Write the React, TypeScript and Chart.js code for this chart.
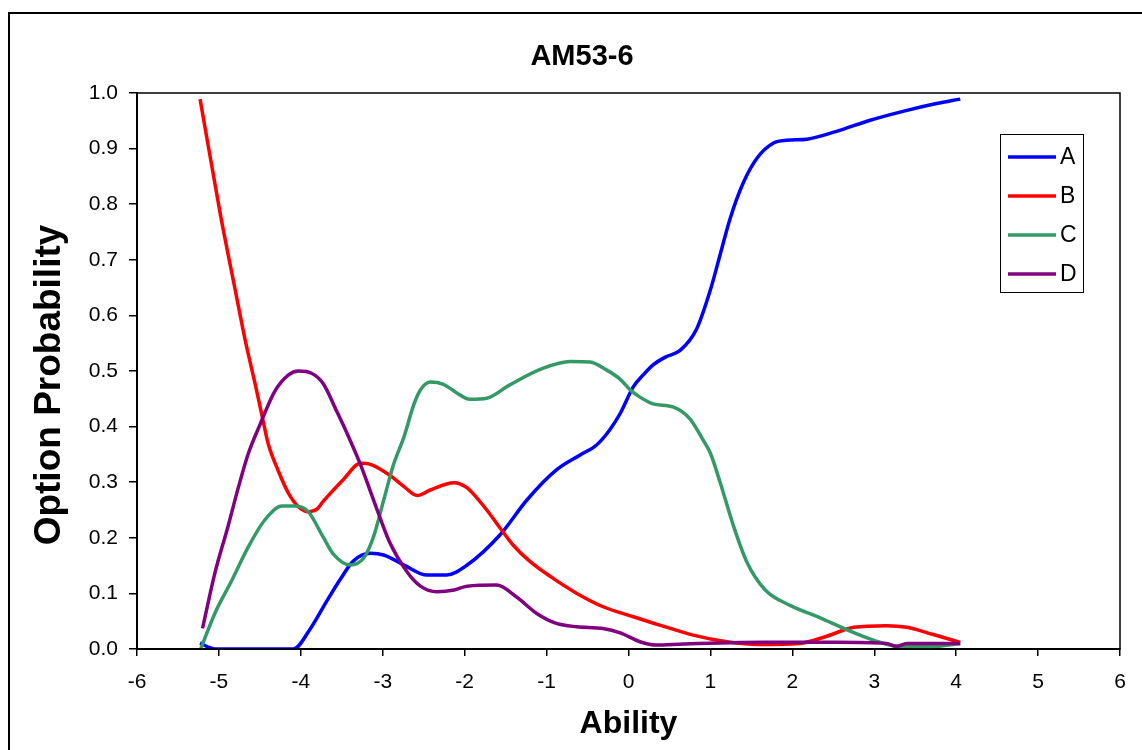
import React, { useEffect, useRef } from "react";
import { Chart, registerables } from "chart.js";

Chart.register(...registerables);

const FONT = '"Liberation Sans", Arial, Helvetica, sans-serif';

const chartTitle = "AM53-6";
const xAxisTitle = "Ability";
const yAxisTitle = "Option Probability";
const seriesNames = ["A", "B", "C", "D"];
const seriesColors = ["#0000FF", "#FF0000", "#339966", "#800080"];

const aX = [-5.23, -5.14, -5.05, -4.5, -4.09, -3.89, -3.68, -3.52, -3.36, -3.15, -2.99, -2.74, -2.46, -2.22, -1.97, -1.57, -1.24, -0.88, -0.59, -0.39, -0.23, -0.1, 0.06, 0.18, 0.3, 0.45, 0.63, 0.83, 1.0, 1.12, 1.24, 1.4, 1.57, 1.77, 1.93, 2.18, 2.54, 2.95, 3.35, 3.76, 4.05];
const aY = [0.011, 0.004, 0.0, 0.0, 0.0, 0.035, 0.087, 0.125, 0.158, 0.172, 0.169, 0.151, 0.133, 0.133, 0.151, 0.205, 0.268, 0.322, 0.349, 0.367, 0.394, 0.424, 0.472, 0.493, 0.511, 0.525, 0.537, 0.575, 0.646, 0.71, 0.774, 0.838, 0.883, 0.91, 0.915, 0.917, 0.931, 0.951, 0.967, 0.981, 0.989];

const bX = [-5.23, -4.98, -4.8, -4.68, -4.56, -4.48, -4.4, -4.28, -4.15, -4.03, -3.91, -3.8, -3.73, -3.64, -3.48, -3.27, -3.15, -2.91, -2.74, -2.58, -2.42, -2.13, -1.97, -1.9, -1.73, -1.55, -1.41, -1.2, -0.92, -0.63, -0.31, 0.06, 0.38, 0.79, 1.2, 1.6, 2.09, 2.42, 2.75, 3.15, 3.4, 3.72, 4.05];
const bY = [0.989, 0.78, 0.645, 0.556, 0.478, 0.424, 0.37, 0.322, 0.28, 0.256, 0.247, 0.252, 0.265, 0.28, 0.305, 0.334, 0.332, 0.312, 0.292, 0.276, 0.286, 0.299, 0.29, 0.28, 0.25, 0.214, 0.187, 0.157, 0.127, 0.1, 0.076, 0.058, 0.043, 0.025, 0.013, 0.008, 0.01, 0.023, 0.039, 0.042, 0.039, 0.026, 0.012];

const cX = [-5.22, -5.05, -4.84, -4.64, -4.44, -4.23, -4.07, -3.91, -3.73, -3.6, -3.4, -3.23, -3.11, -2.99, -2.87, -2.74, -2.62, -2.54, -2.42, -2.26, -2.06, -1.94, -1.73, -1.45, -1.04, -0.71, -0.47, -0.27, -0.1, 0.02, 0.14, 0.3, 0.55, 0.75, 0.91, 1.0, 1.12, 1.28, 1.44, 1.67, 1.98, 2.34, 2.66, 2.99, 3.27, 3.7, 4.05];
const cY = [0.001, 0.064, 0.124, 0.184, 0.232, 0.257, 0.257, 0.247, 0.202, 0.17, 0.151, 0.164, 0.203, 0.267, 0.331, 0.382, 0.44, 0.466, 0.48, 0.476, 0.457, 0.449, 0.451, 0.475, 0.505, 0.517, 0.516, 0.502, 0.485, 0.466, 0.453, 0.441, 0.435, 0.414, 0.376, 0.352, 0.299, 0.222, 0.158, 0.106, 0.078, 0.056, 0.035, 0.016, 0.005, 0.004, 0.01];

const dX = [-5.2, -5.05, -4.89, -4.76, -4.64, -4.5, -4.32, -4.15, -4.03, -3.87, -3.73, -3.56, -3.4, -3.27, -3.11, -2.91, -2.7, -2.54, -2.34, -2.13, -1.97, -1.61, -1.37, -1.12, -0.88, -0.63, -0.31, -0.1, 0.14, 0.34, 0.67, 1.65, 2.54, 3.15, 3.27, 3.4, 4.05];
const dY = [0.037, 0.136, 0.22, 0.292, 0.352, 0.403, 0.463, 0.493, 0.5, 0.496, 0.478, 0.427, 0.376, 0.331, 0.267, 0.19, 0.138, 0.113, 0.103, 0.106, 0.113, 0.115, 0.094, 0.064, 0.046, 0.04, 0.037, 0.029, 0.013, 0.007, 0.009, 0.012, 0.012, 0.01, 0.005, 0.01, 0.01];

const seriesX = [aX, bX, cX, dX];
const seriesY = [aY, bY, cY, dY];

export default function App() {
  const ref = useRef<HTMLCanvasElement>(null);

  useEffect(() => {
    if (!ref.current) return;
    const toPts = (xs: number[], ys: number[]) => xs.map((x, i) => ({ x, y: ys[i] }));

    const decorations = {
      id: "decorations",
      beforeDraw(chart: any) {
        const ctx = chart.ctx;
        ctx.save();
        ctx.fillStyle = "#ffffff";
        ctx.fillRect(0, 0, chart.width, chart.height);
        ctx.strokeStyle = "#000000";
        ctx.lineWidth = 2;
        ctx.strokeRect(9, 13, 3000, 3000);
        ctx.restore();
      },
      afterDraw(chart: any) {
        const ctx = chart.ctx;
        const a = chart.chartArea;
        ctx.save();
        ctx.strokeStyle = "#000000";
        ctx.lineWidth = 1.5;
        ctx.strokeRect(a.left, a.top, a.right - a.left, a.bottom - a.top);
        ctx.fillStyle = "#000000";
        ctx.textAlign = "center";
        ctx.textBaseline = "alphabetic";
        ctx.font = `bold 29px ${FONT}`;
        ctx.fillText(chartTitle, 582, 65);
        ctx.font = `bold 32px ${FONT}`;
        ctx.fillText(xAxisTitle, (a.left + a.right) / 2, 733);
        ctx.save();
        ctx.translate(60, 385);
        ctx.rotate(-Math.PI / 2);
        ctx.font = `bold 37px ${FONT}`;
        ctx.fillText(yAxisTitle, 0, 0);
        ctx.restore();
        const lx = 1000, ly = 134, lw = 83, lh = 158;
        ctx.fillStyle = "#ffffff";
        ctx.fillRect(lx, ly, lw, lh);
        ctx.strokeStyle = "#000000";
        ctx.lineWidth = 1;
        ctx.strokeRect(lx + 0.5, ly + 0.5, lw, lh);
        ctx.font = `23px ${FONT}`;
        ctx.textAlign = "left";
        ctx.textBaseline = "middle";
        chart.data.datasets.forEach((ds: any, i: number) => {
          const yy = ly + 23 + i * 39;
          ctx.strokeStyle = ds.borderColor;
          ctx.lineWidth = 3.5;
          ctx.beginPath();
          ctx.moveTo(lx + 8, yy);
          ctx.lineTo(lx + 56, yy);
          ctx.stroke();
          ctx.fillStyle = "#000000";
          ctx.fillText(ds.label, lx + 60, yy + 1);
        });
        ctx.restore();
      },
    };

    const chart = new Chart(ref.current, {
      type: "scatter",
      data: {
        datasets: seriesNames.map((name, i) => ({
          label: name,
          data: toPts(seriesX[i], seriesY[i]),
          showLine: true,
          borderColor: seriesColors[i],
          backgroundColor: seriesColors[i],
          borderWidth: 3.5,
          pointRadius: 0,
          pointHoverRadius: 0,
          cubicInterpolationMode: "monotone",
          order: 3 - i,
        })),
      },
      options: {
        responsive: false,
        maintainAspectRatio: false,
        devicePixelRatio: 1,
        animation: false,
        events: [],
        layout: { padding: { left: 0, top: 93, right: 22, bottom: 0 } },
        plugins: {
          legend: { display: false },
          title: { display: false },
          tooltip: { enabled: false },
        },
        scales: {
          x: {
            type: "linear",
            min: -6,
            max: 6,
            ticks: {
              stepSize: 1,
              color: "#000000",
              font: { family: FONT, size: 21 },
              padding: 14,
              maxRotation: 0,
              callback: (v: any) => String(v),
            },
            grid: { drawOnChartArea: false, drawTicks: true, tickLength: 7, color: "#000000", lineWidth: 1.5 },
            border: { display: true, color: "#000000", width: 2 },
            afterFit: (s: any) => { s.height = 101; },
          },
          y: {
            type: "linear",
            min: 0,
            max: 1,
            ticks: {
              stepSize: 0.1,
              color: "#000000",
              font: { family: FONT, size: 21 },
              padding: 11,
              callback: (v: any) => Number(v).toFixed(1),
            },
            grid: { drawOnChartArea: false, drawTicks: true, tickLength: 8, color: "#000000", lineWidth: 1.5 },
            border: { display: true, color: "#000000", width: 2 },
            afterFit: (s: any) => { s.width = 137; },
          },
        },
      },
      plugins: [decorations],
    } as any);

    return () => chart.destroy();
  }, []);

  return (
    <div style={{ position: "fixed", left: 0, top: 0, width: 1142, height: 750, background: "#ffffff" }}>
      <canvas ref={ref} width={1142} height={750} style={{ display: "block", width: 1142, height: 750 }} />
    </div>
  );
}
